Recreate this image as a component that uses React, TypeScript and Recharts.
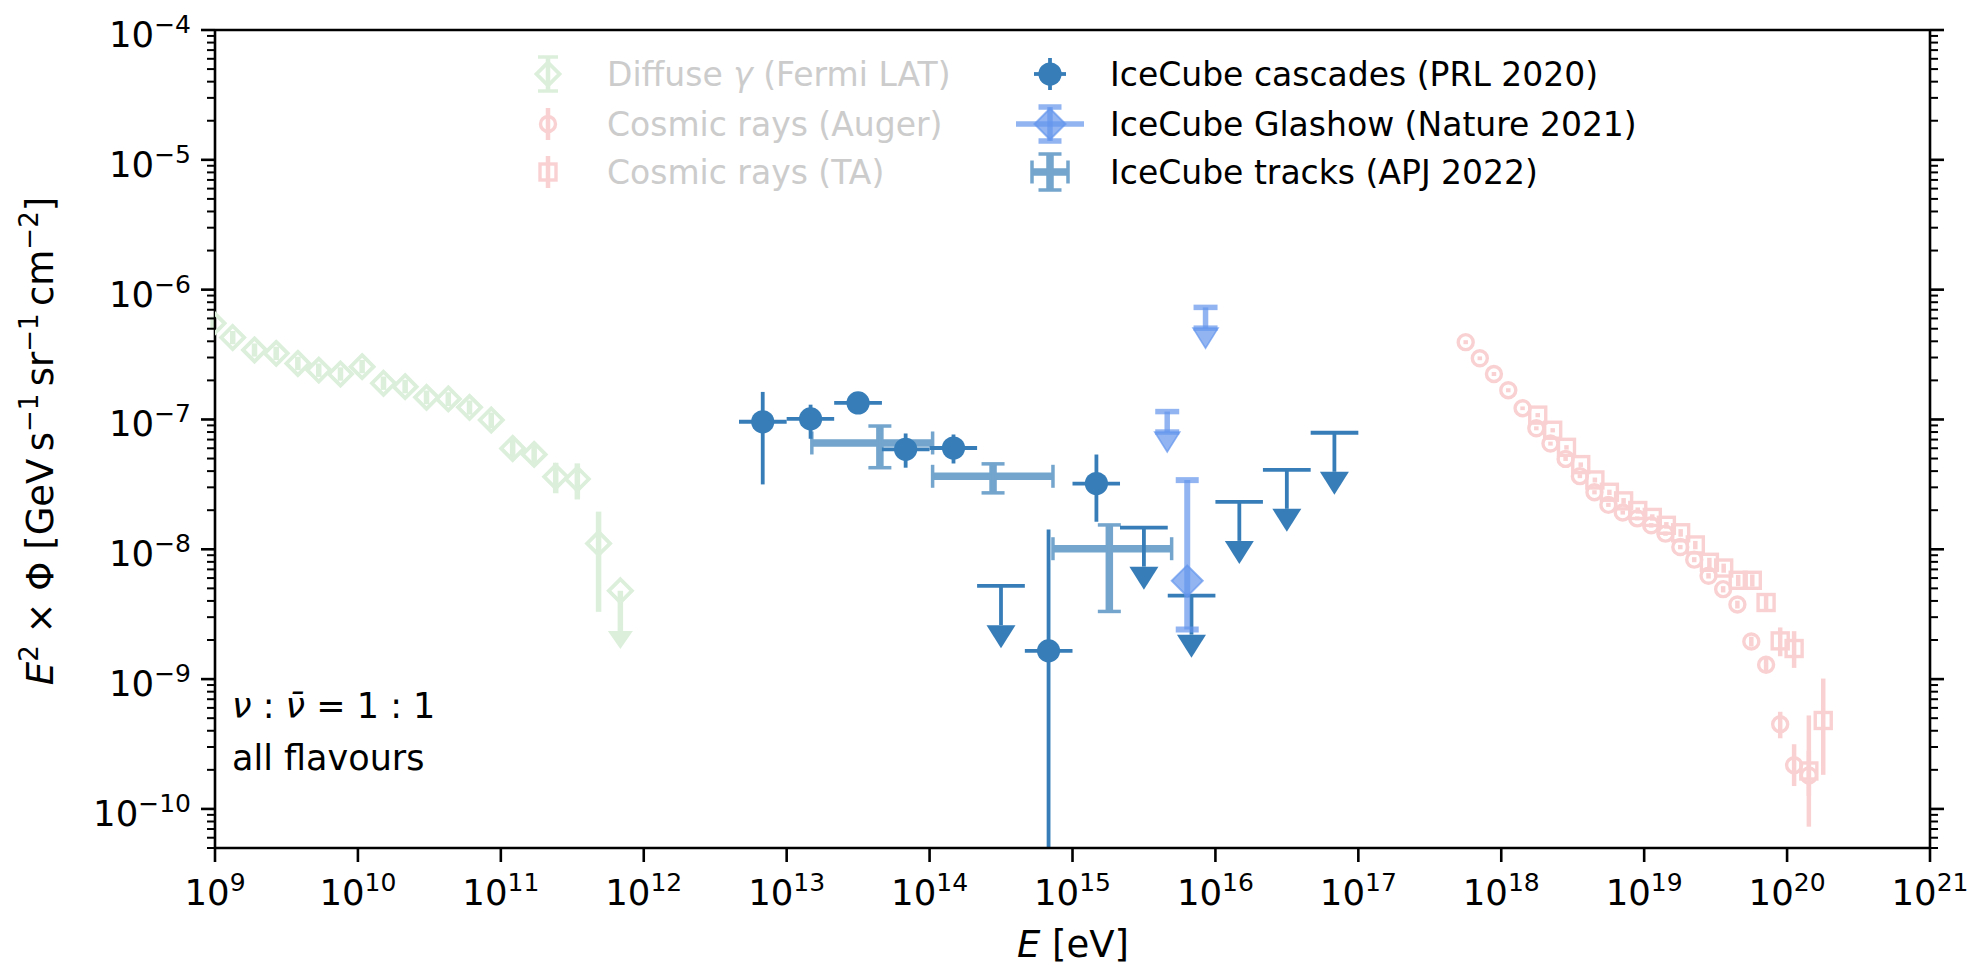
import React from 'react';
import { ScatterChart, Scatter, XAxis, YAxis, ErrorBar } from 'recharts';

const FONT = '"DejaVu Sans", sans-serif';
const W = 1973;
const H = 969;
const PLOT_LEFT = 215;
const PLOT_RIGHT = 1930;

// Set1 colours, alpha flattened onto white where the marks are opaque
const BLUE = '#377eb8';
const TRACK = '#73a5cd';
const GLASHOW = '#6495ed';
const FERMI = '#dbefdb';
const CR = '#fad1d2';
const FADED_TEXT = '#cccccc';

// ---- axes ----
const xDomain = [1e9, 1e21];
const yDomain = [5e-11, 1e-4];
const xTicks = [1e9, 1e10, 1e11, 1e12, 1e13, 1e14, 1e15, 1e16, 1e17, 1e18, 1e19, 1e20, 1e21];
const yMajor = [1e-10, 1e-9, 1e-8, 1e-7, 1e-6, 1e-5, 1e-4];
const minorMantissa = [2, 3, 4, 5, 6, 7, 8, 9];
const yDecades = [1e-11, 1e-10, 1e-9, 1e-8, 1e-7, 1e-6, 1e-5];
const yMinor = yDecades
  .flatMap((d) => minorMantissa.map((m) => m * d))
  .filter((v) => v >= 4.99e-11 && v < 1e-4);
const yTicks = [...yMajor, ...yMinor].sort((a, b) => a - b);

// ---- Fermi LAT diffuse gamma ----
const fermiE = [9.7e8, 1.33e9, 1.89e9, 2.68e9, 3.8e9, 5.32e9, 7.55e9, 1.07e10, 1.51e10, 2.14e10, 3.02e10, 4.29e10, 6.04e10, 8.57e10, 1.21e11, 1.71e11, 2.42e11, 3.43e11, 4.83e11];
const fermiFlux = [5.5e-7, 4.28e-7, 3.43e-7, 3.23e-7, 2.7e-7, 2.4e-7, 2.24e-7, 2.55e-7, 1.9e-7, 1.79e-7, 1.48e-7, 1.44e-7, 1.24e-7, 9.9e-8, 5.98e-8, 5.38e-8, 3.62e-8, 3.48e-8, 1.11e-8];
const fermiLo = [4.9e-7, 3.8e-7, 3.05e-7, 2.87e-7, 2.4e-7, 2.13e-7, 1.99e-7, 2.27e-7, 1.69e-7, 1.59e-7, 1.31e-7, 1.27e-7, 1.09e-7, 8.6e-8, 4.9e-8, 4.4e-8, 2.7e-8, 2.42e-8, 3.3e-9];
const fermiHi = [6.2e-7, 4.8e-7, 3.85e-7, 3.63e-7, 3.04e-7, 2.7e-7, 2.52e-7, 2.87e-7, 2.14e-7, 2.02e-7, 1.67e-7, 1.62e-7, 1.4e-7, 1.13e-7, 7.3e-8, 6.6e-8, 4.64e-8, 4.59e-8, 1.95e-8];
const fermiUlE = [6.86e11];
const fermiUlFlux = [4.79e-9];
const fermiUlArrow = [2.35e-9];

// ---- Cosmic rays, Auger ----
const augerE = [5.64e17, 7.08e17, 8.89e17, 1.12e18, 1.41e18, 1.76e18, 2.21e18, 2.82e18, 3.55e18, 4.49e18, 5.62e18, 7.08e18, 8.95e18, 1.12e19, 1.41e19, 1.79e19, 2.24e19, 2.82e19, 3.57e19, 4.49e19, 5.62e19, 7.13e19, 8.95e19, 1.12e20, 1.42e20];
const augerFlux = [3.94e-7, 2.96e-7, 2.24e-7, 1.68e-7, 1.22e-7, 8.55e-8, 6.52e-8, 4.97e-8, 3.66e-8, 2.75e-8, 2.2e-8, 1.92e-8, 1.73e-8, 1.53e-8, 1.32e-8, 1.04e-8, 8.32e-9, 6.25e-9, 4.93e-9, 3.76e-9, 1.95e-9, 1.29e-9, 4.49e-10, 2.17e-10, 1.81e-10];
const augerLo = [3.8e-7, 2.86e-7, 2.16e-7, 1.62e-7, 1.18e-7, 8.25e-8, 6.29e-8, 4.79e-8, 3.53e-8, 2.65e-8, 2.12e-8, 1.85e-8, 1.67e-8, 1.47e-8, 1.27e-8, 1.0e-8, 7.95e-9, 5.95e-9, 4.65e-9, 3.5e-9, 1.78e-9, 1.14e-9, 3.5e-10, 1.5e-10, 1.26e-10];
const augerHi = [4.08e-7, 3.06e-7, 2.32e-7, 1.74e-7, 1.26e-7, 8.85e-8, 6.75e-8, 5.15e-8, 3.79e-8, 2.85e-8, 2.28e-8, 1.99e-8, 1.79e-8, 1.59e-8, 1.37e-8, 1.08e-8, 8.7e-9, 6.55e-9, 5.2e-9, 4.02e-9, 2.12e-9, 1.44e-9, 5.6e-10, 3.15e-10, 2.8e-10];

// ---- Cosmic rays, Telescope Array ----
const taE = [1.8e18, 2.29e18, 2.86e18, 3.6e18, 4.52e18, 5.71e18, 7.18e18, 9.02e18, 1.14e19, 1.43e19, 1.8e19, 2.28e19, 2.86e19, 3.6e19, 4.55e19, 5.71e19, 7.13e19, 8.95e19, 1.12e20, 1.42e20, 1.79e20];
const taFlux = [1.08e-7, 8.26e-8, 6.1e-8, 4.49e-8, 3.42e-8, 2.75e-8, 2.36e-8, 1.99e-8, 1.76e-8, 1.53e-8, 1.34e-8, 1.08e-8, 7.94e-9, 7.17e-9, 5.77e-9, 5.77e-9, 3.89e-9, 1.97e-9, 1.72e-9, 1.96e-10, 4.8e-10];
const taLo = [1.04e-7, 7.95e-8, 5.86e-8, 4.31e-8, 3.27e-8, 2.62e-8, 2.24e-8, 1.88e-8, 1.66e-8, 1.44e-8, 1.25e-8, 1.0e-8, 7.3e-9, 6.6e-9, 5.2e-9, 5.15e-9, 3.4e-9, 1.5e-9, 1.22e-9, 7.3e-11, 1.83e-10];
const taHi = [1.12e-7, 8.57e-8, 6.34e-8, 4.67e-8, 3.57e-8, 2.88e-8, 2.48e-8, 2.1e-8, 1.86e-8, 1.62e-8, 1.43e-8, 1.16e-8, 8.6e-9, 7.75e-9, 6.35e-9, 6.4e-9, 4.4e-9, 2.5e-9, 2.34e-9, 5.25e-10, 1.01e-9];

// ---- IceCube cascades (PRL 2020) ----
const cascE = [6.8e12, 1.47e13, 3.16e13, 6.8e13, 1.47e14, 6.8e14, 1.47e15];
const cascElo = [4.64e12, 1.0e13, 2.15e13, 4.64e13, 1.0e14, 4.64e14, 1.0e15];
const cascEhi = [1.0e13, 2.15e13, 4.64e13, 1.0e14, 2.15e14, 1.0e15, 2.15e15];
const cascFlux = [9.6e-8, 1.01e-7, 1.34e-7, 5.89e-8, 6.03e-8, 1.65e-9, 3.21e-8];
const cascLo = [3.16e-8, 7.1e-8, 1.22e-7, 4.25e-8, 4.58e-8, 5e-11, 1.63e-8];
const cascHi = [1.63e-7, 1.3e-7, 1.46e-7, 7.8e-8, 7.66e-8, 1.42e-8, 5.37e-8];
const cascUlE = [3.16e14, 3.16e15, 6.8e15, 1.47e16, 3.16e16, 6.8e16];
const cascUlElo = [2.15e14, 2.15e15, 4.64e15, 1.0e16, 2.15e16, 4.64e16];
const cascUlEhi = [4.64e14, 4.64e15, 1.0e16, 2.15e16, 4.64e16, 1.0e17];
const cascUlFlux = [5.22e-9, 1.47e-8, 4.4e-9, 2.32e-8, 4.09e-8, 7.9e-8];
const cascUlArrow = [2.6e-9, 7.35e-9, 2.2e-9, 1.16e-8, 2.05e-8, 3.95e-8];

// ---- IceCube Glashow (Nature 2021) ----
const glashowE = [6.35e15];
const glashowFlux = [5.71e-9];
const glashowLo = [2.41e-9];
const glashowHi = [3.41e-8];
const glashowUlE = [4.6e15, 8.53e15];
const glashowUlFlux = [1.15e-7, 7.3e-7];
const glashowUlArrow = [8.0e-8, 5.05e-7];

// ---- IceCube tracks (APJ 2022) ----
const trackE = [4.49e13, 2.78e14, 1.81e15];
const trackElo = [1.5e13, 1.05e14, 7.3e14];
const trackEhi = [1.05e14, 7.3e14, 4.94e15];
const trackFlux = [6.59e-8, 3.65e-8, 1.01e-8];
const trackLo = [4.25e-8, 2.72e-8, 3.32e-9];
const trackHi = [8.9e-8, 4.55e-8, 1.54e-8];

type Pt = { x: number; y: number; ex?: number[]; ey?: number[] };

function points(E: number[], F: number[], lo?: number[], hi?: number[], eLo?: number[], eHi?: number[]): Pt[] {
  return E.map((x, i) => ({
    x,
    y: F[i],
    ey: lo && hi ? [F[i] - lo[i], hi[i] - F[i]] : undefined,
    ex: eLo && eHi ? [x - eLo[i], eHi[i] - x] : undefined,
  }));
}

// upper limits: line from the limit down to the arrow base
function limits(E: number[], F: number[], arrow: number[], eLo?: number[], eHi?: number[]): Pt[] {
  return E.map((x, i) => ({
    x,
    y: F[i],
    ey: [F[i] - arrow[i], 0],
    ex: eLo && eHi ? [x - eLo[i], eHi[i] - x] : undefined,
  }));
}

const fermiPts = points(fermiE, fermiFlux, fermiLo, fermiHi);
const fermiUl = limits(fermiUlE, fermiUlFlux, fermiUlArrow);
const fermiArrows = points(fermiUlE, fermiUlArrow);
const augerPts = points(augerE, augerFlux, augerLo, augerHi);
const taPts = points(taE, taFlux, taLo, taHi);
const cascPts = points(cascE, cascFlux, cascLo, cascHi, cascElo, cascEhi);
const cascUl = limits(cascUlE, cascUlFlux, cascUlArrow, cascUlElo, cascUlEhi);
const cascArrows = points(cascUlE, cascUlArrow);
const trackPts = points(trackE, trackFlux, trackLo, trackHi, trackElo, trackEhi);
const glashowPts = points(glashowE, glashowFlux, glashowLo, glashowHi);
const glashowUl = limits(glashowUlE, glashowUlFlux, glashowUlArrow);
const glashowArrows = points(glashowUlE, glashowUlArrow);

// ---- marker shapes ----
const diamondPath = (cx: number, cy: number, r: number) =>
  `M${cx},${cy - r}L${cx + r},${cy}L${cx},${cy + r}L${cx - r},${cy}Z`;
const arrowPath = (cx: number, cy: number, w: number, h: number) =>
  `M${cx - w / 2},${cy}L${cx + w / 2},${cy}L${cx},${cy + h}Z`;

const noMarker = () => <g />;
const fermiDiamond = (p: any) => (
  <path d={diamondPath(p.cx, p.cy, 11.5)} fill="none" stroke={FERMI} strokeWidth={3.8} />
);
const fermiArrow = (p: any) => <path d={arrowPath(p.cx, p.cy, 25, 18)} fill={FERMI} />;
const augerCircle = (p: any) => (
  <circle cx={p.cx} cy={p.cy} r={7.5} fill="none" stroke={CR} strokeWidth={3.4} />
);
const taSquare = (p: any) => (
  <rect x={p.cx - 8} y={p.cy - 8} width={16} height={16} fill="none" stroke={CR} strokeWidth={3.4} />
);
const cascCircle = (p: any) => <circle cx={p.cx} cy={p.cy} r={11.6} fill={BLUE} />;
const cascArrow = (p: any) => <path d={arrowPath(p.cx, p.cy, 29, 23)} fill={BLUE} />;
const glashowDiamond = (p: any) => (
  <path d={diamondPath(p.cx, p.cy, 15.5)} fill={GLASHOW} fillOpacity={0.7} stroke={GLASHOW} strokeOpacity={0.7} strokeWidth={2} />
);
const glashowArrow = (p: any) => (
  <path d={arrowPath(p.cx, p.cy, 25, 20)} fill={GLASHOW} fillOpacity={0.7} stroke={GLASHOW} strokeOpacity={0.7} strokeWidth={1.6} />
);

// ---- ticks ----
const TICK_FS = 35.5;
const SUP_FS = 25;
const expText = (v: number) => {
  const e = Math.round(Math.log10(v));
  return e < 0 ? `\u2212${-e}` : `${e}`;
};
const isMajor = (v: number) => {
  const l = Math.log10(v);
  return Math.abs(l - Math.round(l)) < 1e-6;
};

const XTick = (props: any) => {
  const { x, y, payload } = props;
  return (
    <text x={x} y={y + 43} textAnchor="middle" fontSize={TICK_FS} fontFamily={FONT} fill="#000">
      <tspan>10</tspan>
      <tspan dy={-14} fontSize={SUP_FS}>{expText(payload.value)}</tspan>
    </text>
  );
};

const LeftTick = (props: any) => {
  const { y, payload } = props;
  const major = isMajor(payload.value);
  return (
    <g>
      <line x1={PLOT_LEFT} x2={PLOT_LEFT - (major ? 14 : 8)} y1={y} y2={y} stroke="#000" strokeWidth={major ? 2.6 : 2} />
      {major && (
        <text x={PLOT_LEFT - 24} y={y + 17} textAnchor="end" fontSize={TICK_FS} fontFamily={FONT} fill="#000">
          <tspan>10</tspan>
          <tspan dy={-14} fontSize={SUP_FS}>{expText(payload.value)}</tspan>
        </text>
      )}
    </g>
  );
};

const RightTick = (props: any) => {
  const { y, payload } = props;
  const major = isMajor(payload.value);
  return (
    <line x1={PLOT_RIGHT} x2={PLOT_RIGHT + (major ? 14 : 8)} y1={y} y2={y} stroke="#000" strokeWidth={major ? 2.6 : 2} />
  );
};

const axisStyle = { stroke: '#000', strokeWidth: 2.6 };

// ---- legend + labels overlay ----
const LEG_FS = 33;
const LABEL_FS = 37;
const LABEL_SUP = 26;
function Overlay() {
  const lx = 548;
  const rx = 1050;
  const rows = [74, 124, 172];
  const ltx = 607;
  const rtx = 1110;
  return (
    <svg width={W} height={H} style={{ position: 'absolute', left: 0, top: 0, pointerEvents: 'none' }}>
      {/* left column icons */}
      <g stroke={FERMI} strokeWidth={4.5}>
        <line x1={lx} x2={lx} y1={rows[0] - 17} y2={rows[0] + 17} />
        <line x1={lx - 10} x2={lx + 10} y1={rows[0] - 17} y2={rows[0] - 17} strokeWidth={3.5} />
        <line x1={lx - 10} x2={lx + 10} y1={rows[0] + 17} y2={rows[0] + 17} strokeWidth={3.5} />
      </g>
      <path d={diamondPath(lx, rows[0], 11.5)} fill="none" stroke={FERMI} strokeWidth={3.8} />
      <line x1={lx} x2={lx} y1={rows[1] - 16} y2={rows[1] + 16} stroke={CR} strokeWidth={4.5} />
      <circle cx={lx} cy={rows[1]} r={7.5} fill="none" stroke={CR} strokeWidth={3.4} />
      <line x1={lx} x2={lx} y1={rows[2] - 16} y2={rows[2] + 16} stroke={CR} strokeWidth={4.5} />
      <rect x={lx - 8} y={rows[2] - 8} width={16} height={16} fill="none" stroke={CR} strokeWidth={3.4} />

      {/* right column icons */}
      <g stroke={BLUE} strokeWidth={3.8}>
        <line x1={rx - 16} x2={rx + 16} y1={rows[0]} y2={rows[0]} />
        <line x1={rx} x2={rx} y1={rows[0] - 16} y2={rows[0] + 16} />
      </g>
      <circle cx={rx} cy={rows[0]} r={11.6} fill={BLUE} />
      <g stroke={GLASHOW} strokeOpacity={0.7} strokeWidth={5.5}>
        <line x1={rx - 34} x2={rx + 34} y1={rows[1]} y2={rows[1]} />
        <line x1={rx} x2={rx} y1={rows[1] - 17} y2={rows[1] + 17} />
        <line x1={rx - 11.5} x2={rx + 11.5} y1={rows[1] - 17} y2={rows[1] - 17} />
        <line x1={rx - 11.5} x2={rx + 11.5} y1={rows[1] + 17} y2={rows[1] + 17} />
      </g>
      <path d={diamondPath(rx, rows[1], 15.5)} fill={GLASHOW} fillOpacity={0.7} stroke={GLASHOW} strokeOpacity={0.7} strokeWidth={2} />
      <g stroke={TRACK}>
        <line x1={rx - 18} x2={rx + 18} y1={rows[2]} y2={rows[2]} strokeWidth={7.5} />
        <line x1={rx} x2={rx} y1={rows[2] - 18} y2={rows[2] + 18} strokeWidth={7.5} />
        <line x1={rx - 18} x2={rx - 18} y1={rows[2] - 11.5} y2={rows[2] + 11.5} strokeWidth={3.5} />
        <line x1={rx + 18} x2={rx + 18} y1={rows[2] - 11.5} y2={rows[2] + 11.5} strokeWidth={3.5} />
        <line x1={rx - 11.5} x2={rx + 11.5} y1={rows[2] - 18} y2={rows[2] - 18} strokeWidth={3.5} />
        <line x1={rx - 11.5} x2={rx + 11.5} y1={rows[2] + 18} y2={rows[2] + 18} strokeWidth={3.5} />
      </g>

      {/* legend texts */}
      <g fontFamily={FONT} fontSize={LEG_FS}>
        <text x={ltx} y={rows[0] + 12} fill={FADED_TEXT}>
          <tspan>{'Diffuse '}</tspan>
          <tspan fontStyle="italic">γ</tspan>
          <tspan>{' (Fermi LAT)'}</tspan>
        </text>
        <text x={ltx} y={rows[1] + 12} fill={FADED_TEXT}>Cosmic rays (Auger)</text>
        <text x={ltx} y={rows[2] + 12} fill={FADED_TEXT}>Cosmic rays (TA)</text>
        <text x={rtx} y={rows[0] + 12} fill="#000">IceCube cascades (PRL 2020)</text>
        <text x={rtx} y={rows[1] + 12} fill="#000">IceCube Glashow (Nature 2021)</text>
        <text x={rtx} y={rows[2] + 12} fill="#000">IceCube tracks (APJ 2022)</text>
      </g>

      {/* annotation */}
      <g fontFamily={FONT} fontSize={35} fill="#000">
        <text x={232} y={718}>
          <tspan fontStyle="italic">ν</tspan>
          <tspan>{' : '}</tspan>
          <tspan fontStyle="italic">{'ν\u0304'}</tspan>
          <tspan>{' = 1 : 1'}</tspan>
        </text>
        <text x={232} y={770}>all flavours</text>
      </g>

      {/* axis labels */}
      <text x={1073} y={957} textAnchor="middle" fontFamily={FONT} fontSize={LABEL_FS} fill="#000">
        <tspan fontStyle="italic">E</tspan>
        <tspan>{' [eV]'}</tspan>
      </text>
      <text transform="translate(40, 441) rotate(-90)" x={0} y={13} textAnchor="middle" fontFamily={FONT} fontSize={LABEL_FS} fill="#000">
        <tspan fontStyle="italic">E</tspan>
        <tspan dy={-15} fontSize={LABEL_SUP}>2</tspan>
        <tspan dy={15}>{' × Φ [GeV\u2009s'}</tspan>
        <tspan dy={-15} fontSize={LABEL_SUP}>{'\u22121'}</tspan>
        <tspan dy={15}>{'\u2009sr'}</tspan>
        <tspan dy={-15} fontSize={LABEL_SUP}>{'\u22121'}</tspan>
        <tspan dy={15}>{'\u2009cm'}</tspan>
        <tspan dy={-15} fontSize={LABEL_SUP}>{'\u22122'}</tspan>
        <tspan dy={15}>{']'}</tspan>
      </text>
    </svg>
  );
}

export default function App() {
  return (
    <div style={{ position: 'absolute', left: 0, top: 0, width: W, height: H, background: '#fff' }}>
      <ScatterChart width={W} height={H} margin={{ top: 29, right: 42, bottom: 61, left: 65 }}>
        <XAxis
          dataKey="x"
          type="number"
          scale="log"
          domain={xDomain}
          allowDataOverflow
          ticks={xTicks}
          interval={0}
          height={60}
          tickSize={14}
          tickMargin={0}
          tick={<XTick />}
          tickLine={axisStyle}
          axisLine={axisStyle}
        />
        <XAxis
          xAxisId="top"
          orientation="top"
          type="number"
          scale="log"
          domain={xDomain}
          allowDataOverflow
          height={1}
          tick={false}
          tickLine={false}
          axisLine={axisStyle}
        />
        <YAxis
          dataKey="y"
          type="number"
          scale="log"
          domain={yDomain}
          allowDataOverflow
          ticks={yTicks}
          interval={0}
          width={150}
          tickSize={0}
          tickMargin={0}
          tick={<LeftTick />}
          tickLine={false}
          axisLine={axisStyle}
        />
        <YAxis
          yAxisId="right"
          orientation="right"
          type="number"
          scale="log"
          domain={yDomain}
          allowDataOverflow
          ticks={yTicks}
          interval={0}
          width={1}
          tickSize={0}
          tickMargin={0}
          tick={<RightTick />}
          tickLine={false}
          axisLine={axisStyle}
        />

        <Scatter data={fermiPts} shape={fermiDiamond} isAnimationActive={false}>
          <ErrorBar dataKey="ey" direction="y" width={0} stroke={FERMI} strokeWidth={5.5} isAnimationActive={false} />
        </Scatter>
        <Scatter data={fermiUl} shape={fermiDiamond} isAnimationActive={false}>
          <ErrorBar dataKey="ey" direction="y" width={0} stroke={FERMI} strokeWidth={5.5} isAnimationActive={false} />
        </Scatter>
        <Scatter data={fermiArrows} shape={fermiArrow} isAnimationActive={false} />

        <Scatter data={augerPts} shape={augerCircle} isAnimationActive={false}>
          <ErrorBar dataKey="ey" direction="y" width={0} stroke={CR} strokeWidth={4.5} isAnimationActive={false} />
        </Scatter>
        <Scatter data={taPts} shape={taSquare} isAnimationActive={false}>
          <ErrorBar dataKey="ey" direction="y" width={0} stroke={CR} strokeWidth={4.5} isAnimationActive={false} />
        </Scatter>

        <Scatter data={trackPts} shape={noMarker} isAnimationActive={false}>
          <ErrorBar dataKey="ex" direction="x" width={0} stroke={TRACK} strokeWidth={7.5} isAnimationActive={false} />
          <ErrorBar dataKey="ey" direction="y" width={0} stroke={TRACK} strokeWidth={7.5} isAnimationActive={false} />
          <ErrorBar dataKey="ex" direction="x" width={11.5} stroke={TRACK} strokeWidth={3.5} isAnimationActive={false} />
          <ErrorBar dataKey="ey" direction="y" width={11.5} stroke={TRACK} strokeWidth={3.5} isAnimationActive={false} />
        </Scatter>

        <Scatter data={cascPts} shape={cascCircle} isAnimationActive={false}>
          <ErrorBar dataKey="ex" direction="x" width={0} stroke={BLUE} strokeWidth={3.8} isAnimationActive={false} />
          <ErrorBar dataKey="ey" direction="y" width={0} stroke={BLUE} strokeWidth={3.8} isAnimationActive={false} />
        </Scatter>
        <Scatter data={cascUl} shape={noMarker} isAnimationActive={false}>
          <ErrorBar dataKey="ex" direction="x" width={0} stroke={BLUE} strokeWidth={3.8} isAnimationActive={false} />
          <ErrorBar dataKey="ey" direction="y" width={0} stroke={BLUE} strokeWidth={3.8} isAnimationActive={false} />
        </Scatter>
        <Scatter data={cascArrows} shape={cascArrow} isAnimationActive={false} />

        <Scatter data={glashowPts} shape={glashowDiamond} isAnimationActive={false}>
          <ErrorBar dataKey="ey" direction="y" width={11.5} stroke={GLASHOW} strokeOpacity={0.7} strokeWidth={6} isAnimationActive={false} />
        </Scatter>
        <Scatter data={glashowUl} shape={noMarker} isAnimationActive={false}>
          <ErrorBar dataKey="ey" direction="y" width={12} stroke={GLASHOW} strokeOpacity={0.7} strokeWidth={5.5} isAnimationActive={false} />
        </Scatter>
        <Scatter data={glashowArrows} shape={glashowArrow} isAnimationActive={false} />
      </ScatterChart>
      <Overlay />
    </div>
  );
}
